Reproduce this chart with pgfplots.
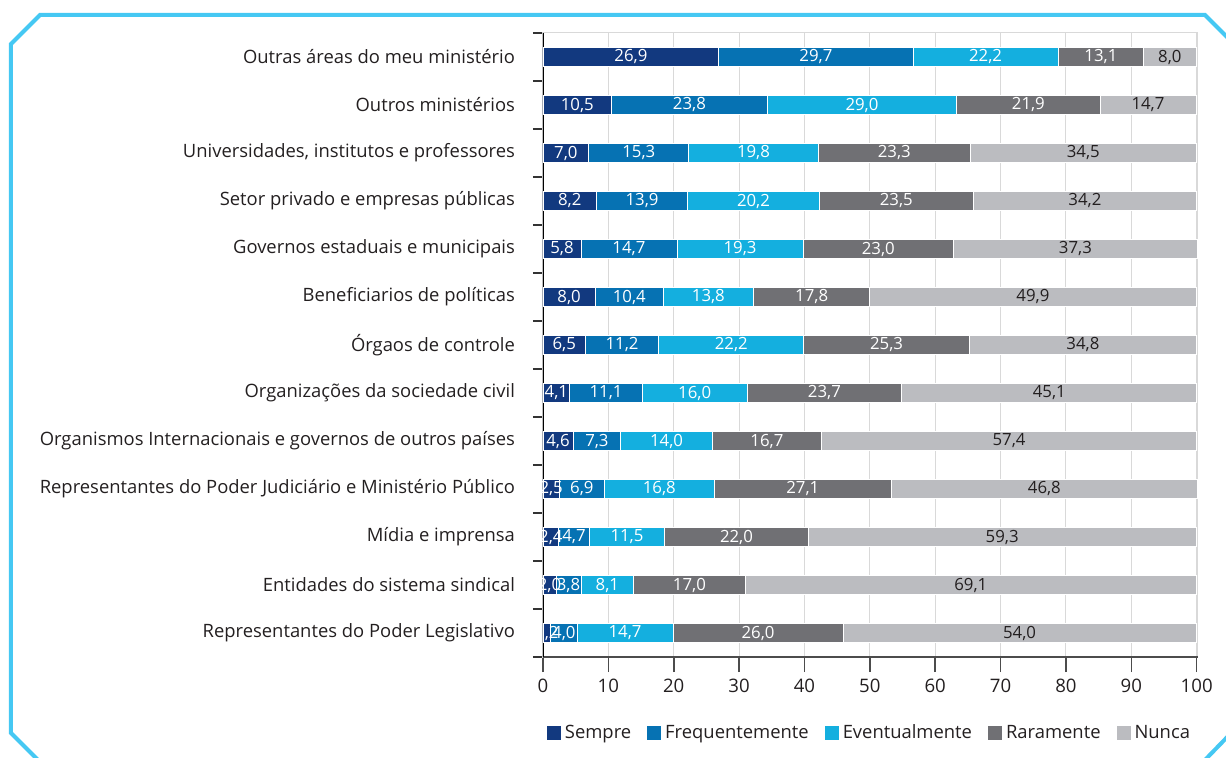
\documentclass[border=0pt]{standalone}
\usepackage{pgfplots}
\pgfplotsset{compat=1.18}
\usepackage{fontspec}
\setmainfont{Open Sans}
\definecolor{cSempre}{HTML}{12397F}
\definecolor{cFreq}{HTML}{0672B3}
\definecolor{cEvent}{HTML}{14AFDF}
\definecolor{cRara}{HTML}{707074}
\definecolor{cNunca}{HTML}{BBBCC0}
\definecolor{frame}{HTML}{45C8F3}
\definecolor{txt}{HTML}{231F20}

\begin{document}
\begin{tikzpicture}
\useasboundingbox (-271.5pt,-50.5pt) rectangle (341.5pt,328.5pt);
\clip (-271.5pt,-50.5pt) rectangle (341.5pt,328.5pt);
% cyan frame with cut corners
\draw[frame, line width=2pt, line join=miter]
  (351pt,301pt) -- (331pt,321pt) -- (-251.5pt,321pt) -- (-266pt,306.5pt)
  -- (-266pt,-38pt) -- (-251.5pt,-52.5pt);
\draw[frame, line width=2pt] (346.5pt,-35.5pt) -- (330pt,-52.5pt);

\begin{axis}[
  scale only axis, width=327.5pt, height=312pt,
  xbar stacked, bar width=9.25pt,
  xmin=0, xmax=100.2, ymin=0.5, ymax=13.5, y dir=reverse,
  xtick={0,10,...,100},
  ytick={1,...,13},
  yticklabels={Outras áreas do meu ministério, Outros ministérios,
    {Universidades, institutos e professores}, Setor privado e empresas públicas,
    Governos estaduais e municipais, Beneficiarios de políticas,
    Órgaos de controle, Organizações da sociedade civil,
    Organismos Internacionais e governos de outros países,
    Representantes do Poder Judiciário e Ministério Público,
    Mídia e imprensa, Entidades do sistema sindical,
    Representantes do Poder Legislativo},
  minor ytick={0.5,1.5,...,13.5},
  tick align=outside, xtick pos=left, ytick pos=left,
  major tick length=7.5pt, minor tick length=5pt,
  major x tick style={draw=black!70, line width=0.8pt},
  major y tick style={draw=none},
  minor y tick style={draw=black!80, line width=0.6pt},
  xmajorgrids, major x grid style={draw=black!15, line width=0.5pt},
  axis line style={draw=black!15, line width=0.5pt},
  ticklabel style={font=\fontsize{9.3}{10}\selectfont, text=txt},
  yticklabel style={font=\fontsize{9.2}{10}\selectfont, xshift=-3pt},
  legend columns=5,
  legend style={at={(0.5,-0.122)}, anchor=center, draw=none,
    font=\fontsize{9.2}{10}\selectfont, text=txt,
    /tikz/every even column/.append style={column sep=6pt}},
  legend image code/.code={\fill[#1, draw=none] (0pt,-3.5pt) rectangle (7pt,3.5pt);},
  nodes near coords={\pgfmathprintnumber[fixed, fixed zerofill, precision=1, use comma]{\pgfplotspointmeta}},
  every node near coord/.append style={anchor=center,
    font=\fontsize{8.4}{9}\selectfont, text=white},
  /pgf/number format/assume math mode=true,
]
\addplot[fill=cSempre, draw=white, line width=0.4pt] coordinates {
  (26.9,1) (10.5,2) (7.0,3) (8.2,4) (5.8,5) (8.0,6) (6.5,7)
  (4.1,8) (4.6,9) (2.5,10) (2.4,11) (2.0,12) (1.2,13)};
\addplot[fill=cFreq, draw=white, line width=0.4pt] coordinates {
  (29.7,1) (23.8,2) (15.3,3) (13.9,4) (14.7,5) (10.4,6) (11.2,7)
  (11.1,8) (7.3,9) (6.9,10) (4.7,11) (3.8,12) (4.0,13)};
\addplot[fill=cEvent, draw=white, line width=0.4pt] coordinates {
  (22.2,1) (29.0,2) (19.8,3) (20.2,4) (19.3,5) (13.8,6) (22.2,7)
  (16.0,8) (14.0,9) (16.8,10) (11.5,11) (8.1,12) (14.7,13)};
\addplot[fill=cRara, draw=white, line width=0.4pt] coordinates {
  (13.1,1) (21.9,2) (23.3,3) (23.5,4) (23.0,5) (17.8,6) (25.3,7)
  (23.7,8) (16.7,9) (27.1,10) (22.0,11) (17.0,12) (26.0,13)};
\addplot[fill=cNunca, draw=white, line width=0.4pt,
  every node near coord/.append style={text=txt}] coordinates {
  (8.0,1) (14.7,2) (34.5,3) (34.2,4) (37.3,5) (49.9,6) (34.8,7)
  (45.1,8) (57.4,9) (46.8,10) (59.3,11) (69.1,12) (54.0,13)};
\legend{Sempre, Frequentemente, Eventualmente, Raramente, Nunca}
\draw[black, line width=0.8pt] (axis cs:0,0.5) -- (axis cs:0,13.5);
\draw[black!70, line width=0.8pt] (axis cs:0,13.5) -- (axis cs:100.2,13.5);
\end{axis}
\end{tikzpicture}
\end{document}
